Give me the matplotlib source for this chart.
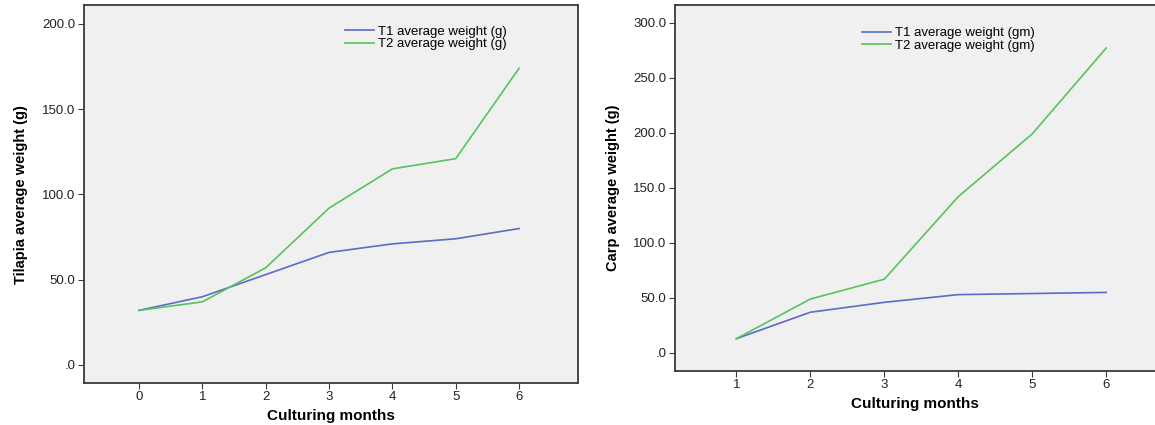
import matplotlib
matplotlib.use('Agg')
import matplotlib.pyplot as plt

# Tilapia (left panel)
tilapia_months = [0, 1, 2, 3, 4, 5, 6]
tilapia_t1 = [32, 40, 53, 66, 71, 74, 80]
tilapia_t2 = [32, 37, 57, 92, 115, 121, 174]

# Carp (right panel)
carp_months = [1, 2, 3, 4, 5, 6]
carp_t1 = [13, 37, 46, 53, 54, 55]
carp_t2 = [13, 49, 67, 142, 199, 277]

BLUE = '#5b6cc4'
GREEN = '#56c45c'
BG = '#f0f0f0'
SPINE = '#3a3a3a'

plt.rcParams['font.family'] = ['Liberation Sans', 'DejaVu Sans']


def yfmt(v):
    s = '%.1f' % v
    return s[1:] if s.startswith('0') else s


def style_axes(ax):
    ax.set_facecolor(BG)
    for sp in ax.spines.values():
        sp.set_color(SPINE)
        sp.set_linewidth(1.3)
    ax.tick_params(axis='both', direction='out', length=4, width=0.8, pad=2,
                   color=SPINE, labelsize=9.5, labelcolor='#222222')


fig = plt.figure(figsize=(11.55, 4.25), dpi=100)

# ---- left: tilapia
ax1 = fig.add_axes([0.0727, 0.0988, 0.4277, 0.889])
style_axes(ax1)
ax1.plot(tilapia_months, tilapia_t1, color=BLUE, lw=1.2, label='T1 average weight (g)')
ax1.plot(tilapia_months, tilapia_t2, color=GREEN, lw=1.2, label='T2 average weight (g)')
ax1.set_xlim(-0.87, 6.93)
ax1.set_ylim(-10.6, 211)
ax1.set_xticks(tilapia_months)
yt = [0, 50, 100, 150, 200]
ax1.set_yticks(yt)
ax1.set_yticklabels([yfmt(v) for v in yt])
ax1.set_xlabel('Culturing months', fontsize=11, fontweight='bold', labelpad=4)
ax1.set_ylabel('Tilapia average weight (g)', fontsize=10.5, fontweight='bold', labelpad=10)
ax1.legend(loc='upper left', bbox_to_anchor=(0.51, 0.97), frameon=False, fontsize=9.5,
           handlelength=2.2, handletextpad=0.3, labelspacing=0.0, borderpad=0.2)

# ---- right: carp
ax2 = fig.add_axes([0.5844, 0.127, 0.4156, 0.861])
style_axes(ax2)
ax2.spines['right'].set_visible(False)
ax2.plot(carp_months, carp_t1, color=BLUE, lw=1.2, label='T1 average weight (gm)')
ax2.plot(carp_months, carp_t2, color=GREEN, lw=1.2, label='T2 average weight (gm)')
ax2.set_xlim(0.17, 6.66)
ax2.set_ylim(-16.4, 316)
ax2.set_xticks(carp_months)
yt2 = [0, 50, 100, 150, 200, 250, 300]
ax2.set_yticks(yt2)
ax2.set_yticklabels([yfmt(v) for v in yt2])
ax2.set_xlabel('Culturing months', fontsize=11, fontweight='bold', labelpad=4)
ax2.set_ylabel('Carp average weight (g)', fontsize=10.5, fontweight='bold', labelpad=10)
ax2.legend(loc='upper left', bbox_to_anchor=(0.37, 0.965), frameon=False, fontsize=9.5,
           handlelength=2.2, handletextpad=0.3, labelspacing=0.0, borderpad=0.2)

fig.savefig('out.png', dpi=100, facecolor='white')
